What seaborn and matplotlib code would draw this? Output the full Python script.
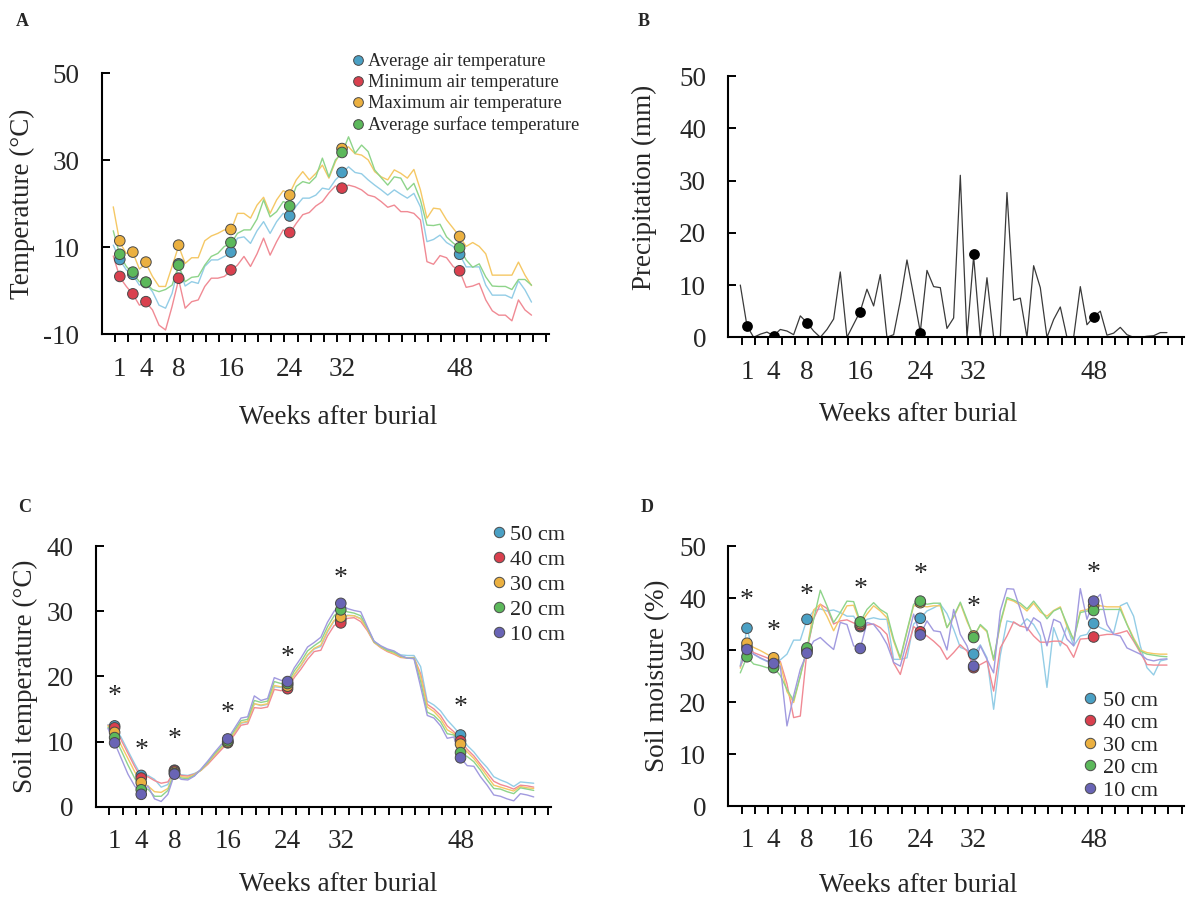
import numpy as np
import pandas as pd
import matplotlib
matplotlib.use("Agg")
import matplotlib.pyplot as plt
import seaborn as sns
from matplotlib.lines import Line2D

sns.set_style("ticks")
plt.rcParams["font.family"] = ["Liberation Serif", "DejaVu Serif"]
plt.rcParams["axes.unicode_minus"] = False

# ---------------- data ----------------
week_labels = ["1", "4", "8", "16", "24", "32", "48"]
sample_idx = [1, 5, 10, 18, 27, 35, 53]          # sampling occasions (point index)
sample_idx_A = [1, 3, 5, 10, 18, 27, 35, 53]     # panel A has one extra sampling

# Panel A: air / surface temperature (65 records)
A_avg = [10.5, 7.1, 4.8, 3.6, 1.3, 1.7, -0.2, -3.3, -4.0, -0.6,
         5.8, 1.1, 2.1, 1.7, 5.6, 7.1, 7.1, 7.9, 8.6, 12.1,
         12.4, 10.9, 13.8, 15.9, 13.2, 15.9, 17.8, 17.0, 19.5, 21.3,
         21.3, 22.0, 23.6, 23.3, 25.5, 27.0, 28.5, 27.2, 26.9, 25.5,
         24.3, 23.2, 22.0, 23.2, 22.2, 21.3, 22.4, 19.3, 11.3, 11.8,
         12.8, 11.1, 10.2, 8.4, 5.5, 5.5, 5.5, 1.3, -1.0, -1.0,
         -1.0, -1.7, 2.3, 0.2, -2.6]
A_min = [8.0, 3.1, 1.0, -0.8, -3.3, -2.6, -4.4, -7.9, -9.0, -3.6,
         2.6, -4.0, -2.5, -2.1, 1.0, 2.9, 2.9, 3.3, 4.6, 5.9,
         7.9, 5.6, 8.5, 12.1, 8.2, 11.3, 14.0, 13.2, 15.5, 17.5,
         18.0, 19.5, 20.5, 22.5, 24.1, 23.5, 24.3, 23.9, 23.2, 22.0,
         21.6, 20.5, 19.2, 19.7, 18.2, 18.2, 17.8, 16.3, 6.7, 6.1,
         8.1, 7.6, 5.6, 4.6, 0.8, 1.1, 1.7, -2.1, -4.6, -5.6,
         -5.6, -6.9, -2.1, -4.4, -5.6]
A_max = [19.3, 11.1, 8.6, 8.8, 5.0, 6.3, 3.3, 1.0, 1.0, 5.6,
         10.3, 6.3, 7.6, 7.6, 11.5, 12.6, 13.2, 14.0, 13.8, 17.8,
         17.8, 16.7, 19.7, 21.5, 17.8, 20.9, 23.0, 22.4, 25.5, 27.4,
         25.5, 27.0, 28.9, 25.9, 29.7, 32.4, 33.1, 31.5, 31.2, 30.1,
         27.4, 26.2, 25.5, 27.8, 27.0, 25.9, 27.9, 23.2, 16.7, 19.0,
         18.8, 16.3, 14.4, 12.5, 10.2, 11.1, 10.2, 8.5, 3.6, 3.6,
         3.6, 3.6, 6.6, 3.6, 1.2]
A_surf = [13.8, 8.2, 5.6, 4.0, 2.1, 1.7, 0.3, -0.2, 0.3, 1.3,
          5.8, 2.1, 3.1, 3.3, 5.9, 7.9, 8.6, 10.2, 10.8, 13.2,
          14.0, 14.0, 16.5, 20.9, 17.0, 18.2, 20.5, 20.0, 24.0, 25.1,
          24.7, 26.2, 30.5, 26.2, 30.1, 31.6, 35.4, 31.6, 33.5, 32.0,
          27.8, 26.0, 24.3, 26.2, 25.9, 23.2, 24.7, 20.9, 15.1, 15.0,
          15.3, 12.4, 11.0, 9.9, 7.1, 5.4, 6.2, 3.2, 1.1, 1.0,
          1.0, 0.3, 2.6, 2.6, 1.3]
A_dot_avg = [7.2, 3.8, 1.9, 6.2, 8.9, 17.2, 27.2, 8.4]
A_dot_min = [3.3, -0.7, -2.5, 2.9, 4.8, 13.4, 23.6, 4.6]
A_dot_max = [11.5, 8.9, 6.6, 10.5, 14.1, 22.0, 32.7, 12.5]
A_dot_surf = [8.4, 4.3, 2.0, 5.9, 11.1, 19.5, 31.8, 9.9]
A_names = ["Average air temperature", "Minimum air temperature",
           "Maximum air temperature", "Average surface temperature"]

# Panel B: precipitation
B_prec = [10.0, 2.2, 0.0, 0.6, 1.0, 0.3, 1.5, 1.2, 0.5, 4.1,
          2.8, 1.2, 0.0, 1.5, 3.5, 12.5, 0.0, 2.5, 5.0, 9.2,
          6.0, 12.0, 0.0, 0.5, 7.0, 14.8, 8.0, 1.0, 12.8, 9.7,
          9.5, 1.7, 3.7, 31.0, 0.0, 15.5, 0.0, 11.4, 0.0, 0.0,
          27.7, 7.1, 7.5, 0.0, 13.7, 9.5, 0.0, 3.4, 5.8, 0.0,
          0.0, 9.7, 2.4, 3.9, 5.0, 0.4, 0.8, 1.9, 0.5, 0.0,
          0.0, 0.2, 0.3, 0.9, 0.9]
B_dot = [2.2, 0.2, 2.7, 4.9, 0.8, 15.9, 3.8]

# Panel C: soil temperature by depth
depths = ["50 cm", "40 cm", "30 cm", "20 cm", "10 cm"]
C_50 = [12.6, 12.4, 10.6, 8.6, 6.6, 4.8, 4.8, 4.2, 3.0, 3.4,
        5.6, 4.9, 4.8, 5.1, 5.6, 6.6, 7.8, 8.9, 10.0, 11.3,
        12.8, 13.0, 15.8, 15.5, 15.7, 18.4, 18.3, 18.8, 20.2, 21.6,
        23.2, 24.2, 24.6, 26.8, 28.5, 28.7, 29.4, 29.3, 28.9, 27.2,
        25.4, 24.6, 24.1, 23.8, 23.3, 23.2, 23.2, 21.5, 16.2, 15.6,
        14.7, 13.3, 12.2, 11.0, 9.4, 8.4, 7.1, 6.0, 4.6, 4.1,
        3.7, 3.1, 3.8, 3.7, 3.6]
C_40 = [12.5, 12.1, 10.2, 8.2, 6.2, 4.4, 4.6, 4.0, 3.6, 3.8,
        5.5, 4.8, 4.7, 5.0, 5.6, 6.5, 7.6, 8.7, 9.8, 11.0,
        12.5, 12.7, 15.2, 15.1, 15.3, 18.0, 17.8, 18.1, 19.8, 21.1,
        22.6, 23.8, 24.0, 26.2, 27.8, 28.2, 28.9, 29.0, 28.4, 27.0,
        25.2, 24.4, 23.8, 23.4, 22.9, 22.8, 22.9, 20.4, 15.7, 15.0,
        14.0, 12.4, 11.5, 10.1, 8.8, 7.8, 6.5, 5.2, 3.9, 3.4,
        3.1, 2.7, 3.3, 3.2, 3.0]
C_30 = [12.4, 11.4, 9.4, 7.4, 5.4, 3.7, 3.2, 2.3, 2.2, 2.8,
        5.3, 4.6, 4.5, 4.9, 5.6, 6.7, 7.9, 9.0, 9.9, 11.4,
        12.9, 13.1, 15.8, 15.6, 15.8, 18.6, 18.4, 18.5, 20.3, 21.7,
        23.3, 24.3, 24.8, 27.0, 28.6, 29.1, 29.3, 29.3, 28.8, 27.2,
        25.2, 24.5, 23.9, 23.5, 23.0, 22.8, 22.8, 20.0, 15.3, 14.6,
        13.5, 11.8, 11.2, 9.6, 8.4, 7.4, 6.1, 4.7, 3.3, 3.0,
        2.7, 2.4, 3.1, 2.9, 2.8]
C_20 = [12.2, 10.6, 8.6, 6.4, 4.4, 2.6, 2.7, 1.6, 1.6, 2.5,
        5.1, 4.4, 4.3, 4.8, 5.7, 6.8, 8.1, 9.2, 10.1, 11.7,
        13.2, 13.4, 16.3, 16.0, 16.2, 19.2, 18.9, 18.9, 20.8, 22.2,
        23.9, 24.7, 25.4, 27.6, 29.3, 30.2, 29.9, 29.7, 29.3, 27.4,
        25.3, 24.6, 24.0, 23.7, 23.1, 22.8, 22.8, 19.2, 14.5, 14.0,
        13.0, 11.2, 11.0, 8.3, 7.7, 6.9, 5.6, 4.1, 2.8, 2.7,
        2.3, 2.0, 2.9, 2.7, 2.5]
C_10 = [12.0, 9.8, 7.4, 5.0, 3.2, 1.9, 3.2, 1.2, 0.8, 1.9,
        5.0, 4.2, 4.1, 4.7, 5.8, 7.0, 8.3, 9.5, 10.4, 12.0,
        13.6, 13.8, 17.0, 16.3, 16.6, 19.8, 19.4, 19.2, 21.3, 22.8,
        24.5, 25.2, 26.0, 28.3, 30.0, 31.2, 30.4, 30.1, 29.9, 27.6,
        25.4, 24.7, 24.2, 23.9, 23.2, 22.8, 22.7, 18.4, 14.0, 13.6,
        12.4, 10.5, 10.7, 7.5, 6.3, 6.2, 4.6, 3.3, 1.8, 1.6,
        1.2, 0.9, 2.0, 1.8, 1.5]
C_dot_50 = [12.4, 4.8, 5.6, 10.0, 18.8, 28.7, 11.0]
C_dot_40 = [12.1, 4.4, 5.5, 9.8, 18.1, 28.2, 10.1]
C_dot_30 = [11.4, 3.7, 5.3, 9.9, 18.5, 29.1, 9.6]
C_dot_20 = [10.6, 2.6, 5.1, 10.1, 18.9, 30.2, 8.3]
C_dot_10 = [9.8, 1.9, 5.0, 10.4, 19.2, 31.2, 7.5]
C_star = [17.6, 9.3, 11.0, 15.1, 23.6, 35.8, 15.9]

# Panel D: soil moisture by depth
D_50 = [27.0, 34.2, 29.2, 28.4, 27.8, 27.6, 28.1, 29.2, 31.9, 31.9,
        35.9, 37.5, 37.9, 37.5, 37.7, 37.2, 36.5, 36.5, 34.5, 35.9,
        36.2, 35.9, 35.9, 28.2, 28.2, 28.5, 35.0, 36.1, 37.5, 38.1,
        38.8, 37.0, 34.0, 30.5, 30.0, 29.2, 31.0, 28.5, 18.6, 29.0,
        35.6, 35.3, 34.6, 36.0, 34.9, 32.7, 22.8, 34.3, 30.8, 34.6,
        30.8, 32.7, 33.0, 35.1, 34.3, 33.7, 33.3, 38.5, 39.1, 36.5,
        30.8, 26.6, 25.2, 27.9, 28.2]
D_40 = [26.8, 30.6, 29.5, 29.0, 28.5, 27.9, 27.8, 23.5, 17.0, 17.3,
        29.8, 36.0, 38.8, 38.0, 35.0, 35.6, 35.8, 35.2, 34.7, 34.8,
        35.0, 34.3, 33.0, 27.5, 25.3, 30.0, 34.5, 33.5, 32.7, 31.7,
        30.5, 28.2, 29.5, 31.0, 29.8, 26.6, 27.2, 27.9, 22.1, 30.4,
        32.7, 35.4, 34.6, 34.3, 32.7, 31.5, 31.5, 31.7, 31.7, 30.8,
        28.6, 32.1, 32.2, 32.5, 32.8, 33.0, 33.0, 33.3, 33.7, 31.7,
        29.5, 27.2, 27.1, 27.1, 27.1]
D_30 = [26.5, 31.3, 30.5, 29.9, 29.2, 28.5, 27.5, 22.0, 19.9, 25.0,
        30.1, 37.7, 38.8, 36.5, 33.7, 36.2, 38.5, 38.6, 35.1, 36.9,
        38.5, 37.5, 36.2, 31.7, 28.2, 33.5, 38.5, 38.5, 38.3, 38.5,
        38.5, 34.3, 36.3, 39.0, 35.5, 32.7, 34.7, 33.5, 28.0, 35.0,
        39.8, 39.4, 38.6, 37.5, 39.0, 37.3, 36.5, 37.6, 38.3, 34.5,
        32.0, 37.5, 37.8, 38.5, 38.5, 38.3, 38.3, 38.3, 35.0, 32.3,
        30.0, 29.5, 29.3, 29.2, 29.2]
D_20 = [25.6, 28.7, 27.3, 27.0, 26.6, 26.6, 25.1, 22.4, 20.3, 25.0,
        30.4, 35.9, 41.5, 38.5, 35.3, 37.2, 39.4, 39.3, 35.4, 37.8,
        39.1, 37.8, 37.0, 32.1, 28.5, 33.7, 38.8, 39.4, 38.8, 39.0,
        39.0, 34.3, 36.5, 39.2, 35.9, 32.4, 34.9, 33.7, 28.2, 35.3,
        40.1, 39.6, 39.0, 37.9, 39.4, 37.8, 36.0, 37.5, 38.1, 35.0,
        31.9, 37.2, 37.5, 37.6, 37.8, 37.8, 37.8, 37.8, 34.9, 32.0,
        29.8, 29.2, 29.0, 28.8, 28.7]
D_10 = [26.9, 30.1, 29.2, 28.5, 27.9, 27.4, 26.9, 15.4, 21.2, 26.3,
        29.4, 31.7, 32.4, 31.2, 30.1, 35.3, 34.9, 30.8, 30.3, 35.3,
        34.9, 33.3, 31.1, 27.6, 26.9, 31.7, 36.9, 32.9, 35.6, 33.7,
        33.5, 30.0, 37.8, 33.0, 30.8, 26.9, 30.8, 28.2, 25.6, 37.5,
        41.8, 41.7, 37.8, 33.7, 36.2, 35.3, 30.8, 35.9, 35.3, 32.1,
        30.8, 41.8, 35.9, 39.4, 40.7, 34.9, 33.0, 32.7, 30.4, 29.8,
        29.2, 28.2, 27.9, 28.2, 28.3]
D_dot_50 = [34.2, 27.6, 35.9, 34.5, 36.1, 29.2, 35.1]
D_dot_40 = [30.6, 27.9, 29.8, 34.7, 33.5, 26.6, 32.5]
D_dot_30 = [31.3, 28.5, 30.1, 35.1, 39.1, 32.7, 38.5]
D_dot_20 = [28.7, 26.6, 30.4, 35.4, 39.4, 32.4, 37.6]
D_dot_10 = [30.1, 27.4, 29.4, 30.3, 32.9, 26.9, 39.4]
D_star = [40.4, 34.5, 41.5, 42.5, 45.4, 39.1, 45.7]

# ---------------- styling ----------------
dot_cols = ["#4aa0c4", "#d9404e", "#ebb040", "#5cb85b", "#6964b5"]
line_cols = ["#93cde6", "#f08a94", "#f5c865", "#8ed48a", "#a19adf"]
EDGE = "#4a4a4a"
FS = 19.5

W, H = 1187, 899
fig = plt.figure(figsize=(W / 100, H / 100), dpi=100)


def add_ax(left, top, width, height):
    return fig.add_axes([left / W, 1 - (top + height) / H, width / W, height / H])


n_pts = len(B_prec)
idx = np.arange(n_pts)
tick_pos = np.arange(34) * 2 + 0.2


def style_axis(ax, ylim, yticks, xlab_xy, ylab_text, ylab_xy):
    ax.set_xlim(-1.8, 66.6)
    ax.set_ylim(*ylim)
    for s in ["top", "right"]:
        ax.spines[s].set_visible(False)
    for s in ["left", "bottom"]:
        ax.spines[s].set_linewidth(1.5)
        ax.spines[s].set_color("black")
    ax.set_xticks(tick_pos)
    ax.set_xticklabels([])
    ax.set_xticks(sample_idx, labels=week_labels, minor=True)
    ax.xaxis.remove_overlapping_locs = False
    ax.tick_params(axis="x", which="major", direction="out", length=6, width=1.4,
                   color="black")
    ax.tick_params(axis="x", which="minor", length=0, pad=16, labelsize=FS)
    ax.set_yticks(yticks)
    ax.tick_params(axis="y", which="major", direction="in", length=6, width=1.4,
                   pad=16, labelsize=FS, color="black")
    ax.set_xlabel("Weeks after burial", fontsize=FS, va="center")
    ax.xaxis.set_label_coords(*xlab_xy)
    ax.set_ylabel(ylab_text, fontsize=FS, va="center")
    ax.yaxis.set_label_coords(*ylab_xy)
    ax.set_facecolor("white")


def lines_and_dots(ax, series, names, dots, didx, lcols, dcols, s=58):
    ldf = pd.concat([pd.DataFrame({"idx": idx, "val": v, "ser": nm})
                     for v, nm in zip(series, names)], ignore_index=True)
    sns.lineplot(data=ldf, x="idx", y="val", hue="ser", hue_order=names,
                 palette=dict(zip(names, lcols)), estimator=None, linewidth=1.0,
                 legend=False, ax=ax)
    ddf = pd.concat([pd.DataFrame({"idx": didx, "val": v, "ser": nm})
                     for v, nm in zip(dots, names)], ignore_index=True)
    sns.scatterplot(data=ddf, x="idx", y="val", hue="ser", hue_order=names,
                    palette=dict(zip(names, dcols)), s=s, edgecolor=EDGE,
                    linewidth=0.7, legend=False, ax=ax, zorder=4)


def stars(ax, yvals):
    for xi, yi in zip(sample_idx, yvals):
        ax.annotate("*", (xi, yi), xytext=(0, -3.5), textcoords="offset points",
                    ha="center", va="center", fontsize=20)


def make_legend(ax, names, cols, anchor_px, fs, ls, hl, htp, ms):
    handles = [Line2D([], [], linestyle="", marker="o", markersize=ms,
                      markerfacecolor=c, markeredgecolor=EDGE, markeredgewidth=0.7)
               for c in cols]
    ax.legend(handles, names, loc="upper left",
              bbox_to_anchor=(anchor_px[0] / W, 1 - anchor_px[1] / H),
              bbox_transform=fig.transFigure, frameon=False, borderpad=0,
              borderaxespad=0, handlelength=hl, handletextpad=htp,
              labelspacing=ls, fontsize=fs)


# ---------- Panel A ----------
axA = add_ax(101.5, 73.3, 447, 261)
lines_and_dots(axA, [A_avg, A_min, A_max, A_surf], A_names,
               [A_dot_avg, A_dot_min, A_dot_max, A_dot_surf], sample_idx_A,
               line_cols[:4], dot_cols[:4])
style_axis(axA, (-10, 50), [-10, 10, 30, 50], (0.53, -0.318),
           "Temperature (°C)", (-0.178, 0.5))
make_legend(axA, A_names, dot_cols[:4], (351, 53), 13.2, 0.22, 0.8, 0.13, 7)

# ---------- Panel B ----------
axB = add_ax(728.3, 76, 456, 261.3)
sns.lineplot(x=idx, y=B_prec, color="#3a3a3a", linewidth=0.9, ax=axB, estimator=None)
sns.scatterplot(x=sample_idx, y=B_dot, color="black", s=60, edgecolor="black",
                linewidth=0, ax=axB, zorder=4)
style_axis(axB, (0, 50), [0, 10, 20, 30, 40, 50], (0.416, -0.297),
           "Precipitation (mm)", (-0.185, 0.575))

# ---------- Panel C ----------
axC = add_ax(96, 546, 455, 260.7)
lines_and_dots(axC, [C_50, C_40, C_30, C_20, C_10], depths,
               [C_dot_50, C_dot_40, C_dot_30, C_dot_20, C_dot_10], sample_idx,
               line_cols, dot_cols)
stars(axC, C_star)
style_axis(axC, (0, 40), [0, 10, 20, 30, 40], (0.532, -0.300),
           "Soil temperature (°C)", (-0.155, 0.5))
make_legend(axC, depths, dot_cols, (492, 524), 16, 0.2, 0.6, 0.2, 7.5)

# ---------- Panel D ----------
axD = add_ax(728.3, 546, 456, 260)
lines_and_dots(axD, [D_50, D_40, D_30, D_20, D_10], depths,
               [D_dot_50, D_dot_40, D_dot_30, D_dot_20, D_dot_10], sample_idx,
               line_cols, dot_cols)
stars(axD, D_star)
style_axis(axD, (0, 50), [0, 10, 20, 30, 40, 50], (0.416, -0.304),
           "Soil moisture (%)", (-0.156, 0.5))
make_legend(axD, depths, dot_cols, (1083, 690), 16, 0.09, 0.6, 0.29, 7.5)

# panel letters
for lab, (px, py) in zip("ABCD", [(22, 22), (644, 22), (25, 507), (647, 507)]):
    fig.text(px / W, 1 - py / H, lab, ha="center", va="center",
             fontsize=13, fontweight="bold")

fig.savefig("out.png", dpi=100, facecolor="white")
